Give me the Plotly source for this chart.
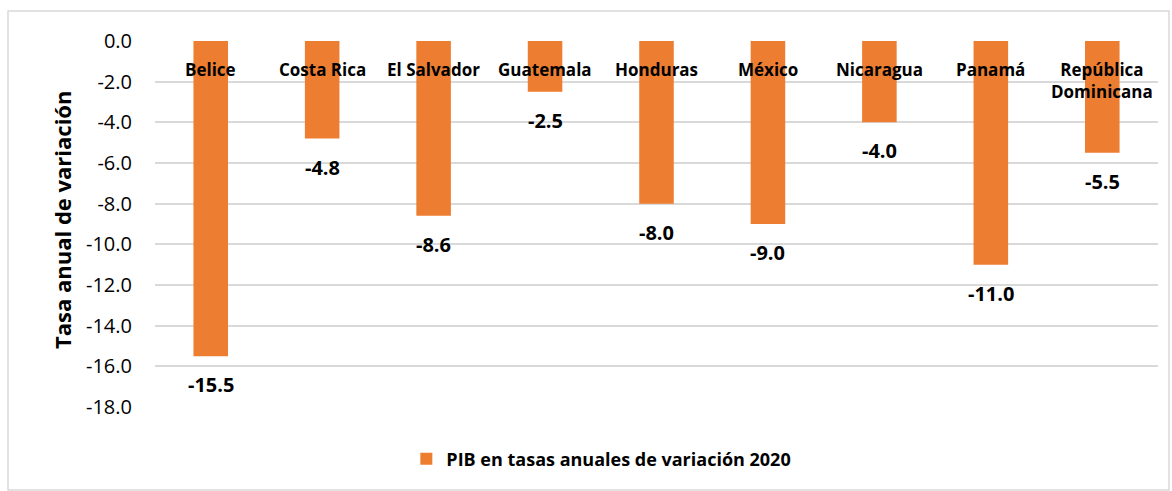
import plotly.graph_objects as go

# Data
paises = ['Belice', 'Costa Rica', 'El Salvador', 'Guatemala', 'Honduras',
          'México', 'Nicaragua', 'Panamá', 'República<br>Dominicana']
pib_2020 = [-15.5, -4.8, -8.6, -2.5, -8.0, -9.0, -4.0, -11.0, -5.5]
y_ticks = [0, -2, -4, -6, -8, -10, -12, -14, -16, -18]
y_labels = ['0.0', '-2.0', '-4.0', '-6.0', '-8.0', '-10.0', '-12.0', '-14.0', '-16.0', '-18.0']

BAR_COLOR = '#ED7D31'
GRID_COLOR = '#D9D9D9'
FONT = 'Open Sans, Noto Sans, sans-serif'

W, H = 1172, 491
L, R, T, B = 155, 14, 41, 84
pw, ph = W - L - R, H - T - B

def px_x(p):
    return (p - L) / pw

def px_y(p):
    return (H - B - p) / ph

fig = go.Figure()

fig.add_trace(go.Bar(
    x=paises, y=pib_2020,
    marker=dict(color=BAR_COLOR, line=dict(width=0)),
    name='<b>PIB en tasas anuales de variación 2020</b>',
    hoverinfo='none'
))

annotations = []
# category names near the zero line
for p in paises:
    annotations.append(dict(
        x=p, y=0, xref='x', yref='y', text=f'<b>{p}</b>',
        showarrow=False, yanchor='top', yshift=-15,
        font=dict(family=FONT, size=17, color='black')
    ))
# value labels under each bar
for p, v in zip(paises, pib_2020):
    annotations.append(dict(
        x=p, y=v, xref='x', yref='y', text=f'<b>{v:.1f}</b>',
        showarrow=False, yanchor='top', yshift=-13,
        font=dict(family=FONT, size=20, color='black')
    ))
annotations.append(dict(
    x=px_x(62), y=px_y(220), xref='paper', yref='paper', xanchor='center', yanchor='middle',
    text='<b>Tasa anual de variación</b>', textangle=-90,
    showarrow=False, font=dict(family=FONT, size=22, color='black')
))

fig.update_layout(
    width=W, height=H,
    margin=dict(l=L, r=R, t=T, b=B),
    plot_bgcolor='white', paper_bgcolor='white',
    bargap=0.69,
    showlegend=True,
    legend=dict(orientation='h', x=0.445, xanchor='center', y=px_y(459), yanchor='middle',
                font=dict(family=FONT, size=18, color='black')),
    xaxis=dict(showticklabels=False, showgrid=False, zeroline=False, showline=False,
               fixedrange=True),
    yaxis=dict(range=[-18, 0], tickvals=y_ticks, ticktext=y_labels,
               showgrid=True, gridcolor=GRID_COLOR, gridwidth=1.5,
               zeroline=False, showline=False, ticks='', ticklabelstandoff=22,
               tickfont=dict(family=FONT, size=20, color='black'), fixedrange=True),
    annotations=annotations,
    shapes=[dict(type='rect', xref='paper', yref='paper',
                 x0=px_x(8), x1=px_x(1169), y0=px_y(490), y1=px_y(11),
                 line=dict(color=GRID_COLOR, width=1.5), layer='above')]
)

fig.write_html('out.html', config={'displayModeBar': False},
               post_script="document.body.style.margin='0';")
